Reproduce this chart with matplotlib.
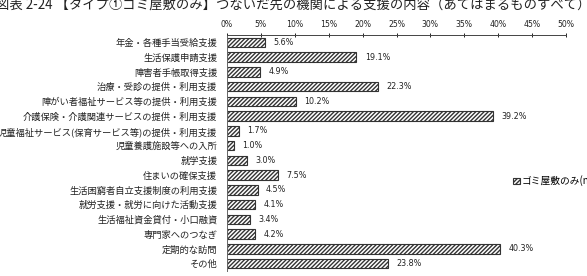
import matplotlib
matplotlib.use("Agg")
import matplotlib.pyplot as plt
from matplotlib.ticker import FuncFormatter

plt.rcParams['font.family'] = ['Noto Sans CJK JP', 'DejaVu Sans']
plt.rcParams['hatch.linewidth'] = 1.0

categories = [
    "年金・各種手当受給支援",
    "生活保護申請支援",
    "障害者手帳取得支援",
    "治療・受診の提供・利用支援",
    "障がい者福祉サービス等の提供・利用支援",
    "介護保険・介護関連サービスの提供・利用支援",
    "児童福祉サービス(保育サービス等)の提供・利用支援",
    "児童養護施設等への入所",
    "就学支援",
    "住まいの確保支援",
    "生活困窮者自立支援制度の利用支援",
    "就労支援・就労に向けた活動支援",
    "生活福祉資金貸付・小口融資",
    "専門家へのつなぎ",
    "定期的な訪問",
    "その他",
]
values = [5.6, 19.1, 4.9, 22.3, 10.2, 39.2, 1.7, 1.0, 3.0, 7.5, 4.5, 4.1, 3.4, 4.2, 40.3, 23.8]
xticks = [0, 5, 10, 15, 20, 25, 30, 35, 40, 45, 50]
series_name = "ゴミ屋敷のみ(n=)"
title = "図表 2-24 【タイプ①ゴミ屋敷のみ】つないだ先の機関による支援の内容（あてはまるものすべて）"

fig = plt.figure(figsize=(5.87, 2.76), dpi=100)
ax = fig.add_axes([227/587, 5/276, (566-227)/587, (241-5)/276])

y = list(range(len(categories)))
bars = ax.barh(y, values, height=0.64, color='white', edgecolor='#333333',
               hatch='////////', linewidth=0.8, label=series_name)

ax.set_ylim(len(categories) - 0.5, -0.5)
ax.set_xlim(0, 50)
ax.set_yticks(y)
ax.set_yticklabels(categories, fontsize=6.7, color='#222222')
ax.tick_params(axis='y', length=0, pad=7)

ax.xaxis.tick_top()
ax.set_xticks(xticks)
ax.xaxis.set_major_formatter(FuncFormatter(lambda v, p: f"{int(v)}%"))
ax.tick_params(axis='x', direction='inout', length=3, width=0.7, pad=3,
               labelsize=5.6, colors='#222222')
for lab in ax.get_xticklabels():
    lab.set_family(['Liberation Sans Narrow', 'DejaVu Sans'])

for s in ['right', 'bottom']:
    ax.spines[s].set_visible(False)
ax.spines['top'].set_linewidth(0.7)
ax.spines['top'].set_color('#444444')
ax.spines['left'].set_linewidth(0.7)
ax.spines['left'].set_color('#666666')

for yi, v in zip(y, values):
    ax.annotate(f"{v:.1f}%", xy=(v, yi), xytext=(6, 0), textcoords='offset points',
                va='center', ha='left', fontsize=5.8, color='#222222',
                family=['Liberation Sans Narrow', 'DejaVu Sans'])

fig.legend(handles=[bars], labels=[series_name], loc='center left',
           bbox_to_anchor=(513/587, 1 - 181/276), frameon=False,
           fontsize=7, handlelength=0.7, handleheight=0.7, handletextpad=0.2,
           borderpad=0, borderaxespad=0)

fig.text(-4/587, 1 - 6/276, title, fontsize=9.6, va='center', ha='left', color='#222222')

fig.savefig("out.png", dpi=100)
